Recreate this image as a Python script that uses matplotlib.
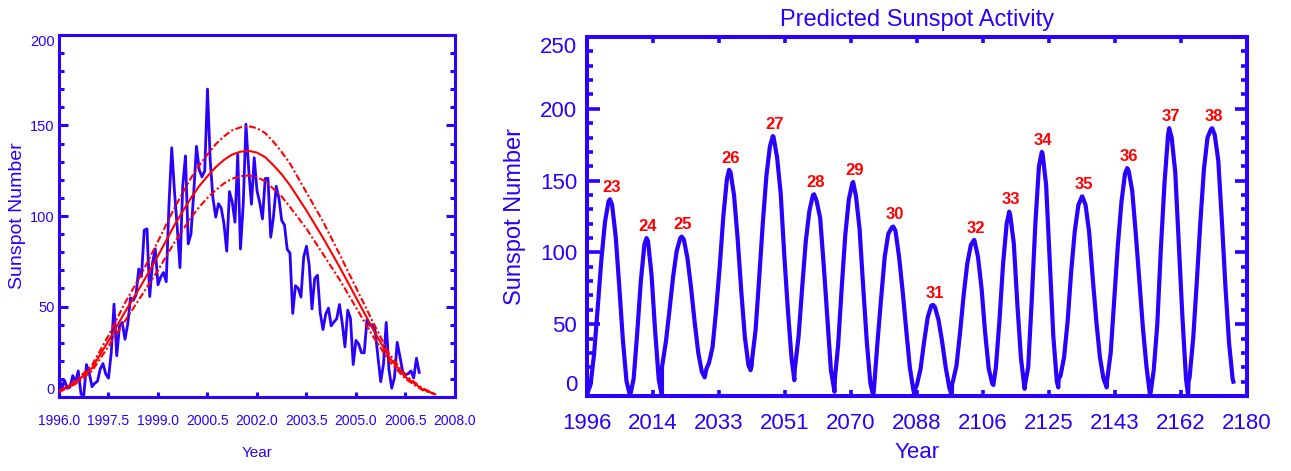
import matplotlib.pyplot as plt
from matplotlib.ticker import MultipleLocator

BLUE = '#2a00ff'
RED = '#ff0000'
SANS = ['Liberation Sans', 'DejaVu Sans']

# ---- left panel: observed monthly sunspot numbers, Jan 1996 .. Dec 2006
obs_ssn = [
    11.5, 4.4, 9.2, 4.8, 5.5, 11.8, 8.2, 14.4, 1.6, 0.9, 17.9, 13.3,        # 1996
    5.7, 7.6, 8.7, 15.5, 18.5, 12.7, 10.4, 24.4, 51.3, 22.8, 39.0, 41.2,    # 1997
    31.9, 40.3, 54.8, 53.4, 56.3, 70.7, 66.6, 92.2, 92.9, 55.5, 74.0, 81.9, # 1998
    62.0, 66.3, 68.8, 63.7, 106.4, 137.7, 113.5, 93.7, 71.5, 116.7, 133.2, 84.6,
    90.1, 112.9, 138.5, 125.5, 121.6, 124.9, 170.1, 130.5, 109.7, 99.4, 106.8, 104.4,
    95.6, 80.6, 113.5, 107.7, 96.6, 134.0, 81.8, 106.4, 150.7, 125.5, 106.5, 132.2,
    114.1, 107.4, 98.4, 120.7, 120.8, 88.3, 99.6, 116.4, 109.6, 97.5, 95.0, 81.6,
    79.5, 46.2, 61.5, 60.0, 55.2, 77.4, 83.3, 72.7, 48.7, 65.5, 67.3, 46.5,
    37.3, 45.8, 49.1, 39.3, 41.5, 43.2, 51.1, 40.9, 27.7, 48.0, 43.5, 17.9,
    31.3, 29.2, 24.5, 24.4, 42.6, 39.6, 39.9, 36.4, 22.1, 8.5, 18.0, 41.2,
    15.3, 4.9, 10.6, 30.2, 22.3, 13.9, 12.2, 12.9, 14.4, 10.5, 21.4, 13.6,
]
obs_years = [1996 + i / 12 for i in range(len(obs_ssn))]

# fitted cycle curve and its upper / lower envelopes
fit_years = [1996.0, 1996.5, 1997.0, 1997.5, 1998.0, 1998.5, 1999.0, 1999.5,
             2000.0, 2000.25, 2000.5, 2000.75, 2001.0, 2001.25, 2001.5, 2001.75,
             2002.0, 2002.25, 2002.5, 2002.75, 2003.0, 2003.5,
             2004.0, 2004.5, 2005.0, 2005.5, 2006.0, 2006.5, 2007.0, 2007.4]
fit_mid = [3, 8, 16, 31, 47, 62, 78, 95,
           110, 116.5, 122, 127, 131, 134, 135.5, 136,
           135, 132.5, 128, 123, 117, 103,
           88, 72, 55, 38, 22, 11, 4.5, 1.5]
fit_high = [3.3, 8.8, 17.6, 34, 52, 68, 86, 104.5,
            121, 128, 134, 139.7, 144, 147.4, 149, 149.6,
            148.5, 145.8, 141, 135.3, 129, 113,
            97, 79, 60.5, 42, 24, 12, 5, 1.6]
fit_low = [2.7, 7.2, 14.4, 28, 42, 56, 70, 85.5,
           99, 105, 110, 114.3, 118, 120.6, 122, 122.4,
           121.5, 119.2, 115, 110.7, 105, 93,
           79, 65, 49.5, 34, 20, 10, 4, 1.4]

left_xticks = [1996.0, 1997.5, 1999.0, 2000.5, 2002.0, 2003.5, 2005.0, 2006.5, 2008.0]
left_yticks = [0, 50, 100, 150, 200]

# ---- right panel: predicted activity
pred_years = [
    1996.0, 1997, 1998, 1999, 2000, 2001, 2002, 2002.4, 2003, 2004, 2005, 2006, 2007, 2008,
    2009, 2010, 2011, 2012, 2012.6, 2013, 2014, 2015, 2016, 2016.9,
    2016.9, 2018, 2019, 2020, 2021, 2022, 2022.4, 2023, 2024, 2025, 2026, 2027, 2028, 2028.8,
    2029.3, 2030, 2031, 2032, 2033, 2034, 2035, 2035.6, 2036, 2037, 2038, 2039, 2040, 2041, 2041.6,
    2041.9, 2042, 2043, 2044, 2045, 2046, 2047, 2047.8, 2048, 2049, 2050, 2051, 2052, 2053, 2053.8,
    2053.9, 2055, 2056, 2057, 2058, 2059, 2059.3, 2060, 2061, 2062, 2063, 2064, 2065,
    2065.1, 2066, 2067, 2068, 2069, 2070, 2070.2, 2071, 2072, 2073, 2074, 2075, 2075.8,
    2076, 2077, 2078, 2079, 2080, 2081, 2081.4, 2082, 2083, 2084, 2085, 2086, 2087, 2087.4,
    2087.5, 2088, 2089, 2090, 2091, 2092, 2092.5, 2093, 2094, 2095, 2096, 2097, 2097.7,
    2097.8, 2098, 2099, 2100, 2101, 2102, 2103, 2103.9, 2104, 2105, 2106, 2107, 2108, 2109, 2109.3,
    2110, 2111, 2112, 2113, 2113.7, 2114, 2115, 2116, 2117, 2118,
    2118.2, 2119, 2120, 2121, 2122, 2122.8, 2123, 2124, 2125, 2126, 2127, 2127.4,
    2127.5, 2128, 2129, 2130, 2131, 2132, 2133, 2134, 2134.1, 2135, 2136, 2137, 2138, 2139, 2140, 2140.9,
    2141.0, 2142, 2143, 2144, 2145, 2146, 2146.6, 2147, 2148, 2149, 2150, 2151, 2152, 2153,
    2154, 2155, 2156, 2157, 2158, 2158.3, 2159, 2160, 2161, 2162, 2163, 2163.6,
    2163.7, 2164, 2165, 2166, 2167, 2168, 2169, 2170, 2170.3, 2171, 2172, 2173, 2174, 2175, 2176, 2176.2,
]
pred_ssn = [
    1, 8, 30, 62, 95, 121, 135.6, 137, 133, 111, 76, 39, 10.5, 0,
    12, 44, 80, 105.5, 110, 108, 84, 45, 11.4, 0,
    20, 38, 60, 83, 101, 110, 111, 109, 96, 75.6, 51.7, 30.4, 17, 13,
    19, 23, 34, 60, 90, 125, 151, 157.5, 156, 139.6, 109.4, 73.2, 41.2, 21.5, 18,
    21, 25, 46, 82, 120, 153, 174, 181, 180.5, 166, 141, 98, 60, 27, 11,
    18, 42, 76, 108, 129, 140, 140.5, 136, 124, 91, 54, 18, 3,
    12, 35, 75, 112, 137, 148.5, 149, 139, 116, 76, 38, 9, 0,
    5, 38, 68, 97, 113, 117.5, 118, 115, 97, 73, 46, 20, 4, 0,
    5, 8, 19, 38, 55, 63, 63.4, 62, 53, 38, 20, 6, 0,
    9, 10, 21, 44, 70, 92, 105, 108.7, 108.5, 97, 75, 44, 19, 8.5, 7.7,
    20, 53, 92, 120, 128.4, 126, 106, 63, 26, 5,
    9, 20, 67, 120, 160, 170, 169, 147, 95, 42, 10, 6,
    12, 14, 27, 52, 87, 115, 133, 139, 139, 133, 114, 82, 52, 27, 12, 6,
    11, 30, 68, 105, 135, 155, 158.7, 157, 143, 113, 80, 47, 20, 0,
    18, 50, 103, 148, 182, 186.5, 180, 156, 106, 55, 12, 0,
    10, 13, 40, 79, 121, 158, 180, 186, 186.5, 182, 164, 122, 76, 37, 12, 10,
]

cycle_numbers = ['23', '24', '25', '26', '27', '28', '29', '30',
                 '31', '32', '33', '34', '35', '36', '37', '38']
cycle_peak_years = [2002.4, 2012.6, 2022.4, 2035.6, 2047.8, 2059.3, 2070.2, 2081.4,
                    2092.5, 2103.9, 2113.7, 2122.8, 2134.1, 2146.6, 2158.3, 2170.3]
cycle_peak_ssn = [137, 110, 111, 157.5, 181, 140.5, 149, 118,
                  63.4, 108.7, 128.4, 170, 139, 158.7, 186.5, 186.5]

right_xticks = [1996, 2014.4, 2032.8, 2051.2, 2069.6, 2088, 2106.4, 2124.8, 2143.2, 2161.6, 2180]
right_xticklabels = ['1996', '2014', '2033', '2051', '2070', '2088',
                     '2106', '2125', '2143', '2162', '2180']
right_yticks = [0, 50, 100, 150, 200, 250]

fig = plt.figure(figsize=(12.91, 4.71), dpi=100)
ax1 = fig.add_axes([0.0457, 0.1571, 0.3067, 0.7686])
ax2 = fig.add_axes([0.4547, 0.1592, 0.5112, 0.7622])

# ---- left panel
ax1.plot(obs_years, obs_ssn, color=BLUE, lw=2.0, zorder=2)
ax1.plot(fit_years, fit_mid, color=RED, lw=1.5, zorder=3)
ax1.plot(fit_years, fit_high, color=RED, lw=1.5, ls=(0, (3.3, 1.2, 1, 1.2)), zorder=3)
ax1.plot(fit_years, fit_low, color=RED, lw=1.5, ls=(0, (3.3, 1.2, 1, 1.2)), zorder=3)

ax1.set_xlim(1996, 2008)
ax1.set_ylim(0, 200)
ax1.set_xticks(left_xticks)
ax1.set_xticklabels([f'{t:.1f}' for t in left_xticks], family=SANS, fontsize=10)
ax1.set_yticks(left_yticks)
ax1.set_yticklabels([str(t) for t in left_yticks], family=SANS, fontsize=10.5)
ax1.yaxis.set_minor_locator(MultipleLocator(10))
ax1.tick_params(axis='both', which='both', direction='in', colors=BLUE, width=2.2)
ax1.tick_params(axis='x', which='major', length=3.6, pad=12, top=False)
ax1.tick_params(axis='y', which='major', length=6.5, pad=3, right=True)
ax1.tick_params(axis='y', which='minor', length=3.6, right=True)
yl = ax1.get_yticklabels()
yl[0].set_va('bottom')
yl[-1].set_va('top')
for s in ax1.spines.values():
    s.set_color(BLUE)
    s.set_linewidth(2.2)
ax1.set_xlabel('Year', color=BLUE, family=SANS, fontsize=11)
ax1.xaxis.label.set_va('center')
ax1.xaxis.set_label_coords(0.5, -0.155)
ax1.set_ylabel('Sunspot Number', color=BLUE, family=SANS, fontsize=14)
ax1.yaxis.label.set_va('center')
ax1.yaxis.set_label_coords(-0.106, 0.5)

# ---- right panel
ax2.plot(pred_years, pred_ssn, color=BLUE, lw=3.0, solid_joinstyle='round')
for lab, px, py in zip(cycle_numbers, cycle_peak_years, cycle_peak_ssn):
    ax2.annotate(lab, (px, py), xytext=(1, 3), textcoords='offset points',
                 ha='center', va='bottom', color=RED, fontsize=12,
                 fontweight='bold', family=SANS)

ax2.set_xlim(1996, 2180)
ax2.set_ylim(0, 250)
ax2.set_xticks(right_xticks)
ax2.set_xticklabels(right_xticklabels, family=SANS, fontsize=16)
ax2.set_yticks(right_yticks)
ax2.set_yticklabels([str(t) for t in right_yticks], family=SANS, fontsize=16)
ax2.yaxis.set_minor_locator(MultipleLocator(10))
ax2.tick_params(axis='both', which='both', direction='in', colors=BLUE, width=2.6)
ax2.tick_params(axis='x', which='major', length=4.3, pad=12, top=True)
ax2.tick_params(axis='y', which='major', length=9, pad=7, right=True)
ax2.tick_params(axis='y', which='minor', length=4.5, right=True)
yl = ax2.get_yticklabels()
yl[0].set_va('bottom')
yl[-1].set_va('top')
for s in ax2.spines.values():
    s.set_color(BLUE)
    s.set_linewidth(2.9)
ax2.set_title('Predicted Sunspot Activity', color=BLUE, family=SANS, fontsize=17, pad=8)
ax2.set_xlabel('Year', color=BLUE, family=SANS, fontsize=16)
ax2.xaxis.label.set_va('center')
ax2.xaxis.set_label_coords(0.5, -0.156)
ax2.set_ylabel('Sunspot Number', color=BLUE, family=SANS, fontsize=17)
ax2.yaxis.label.set_va('center')
ax2.yaxis.set_label_coords(-0.109, 0.5)

fig.savefig('out.png', dpi=100)
